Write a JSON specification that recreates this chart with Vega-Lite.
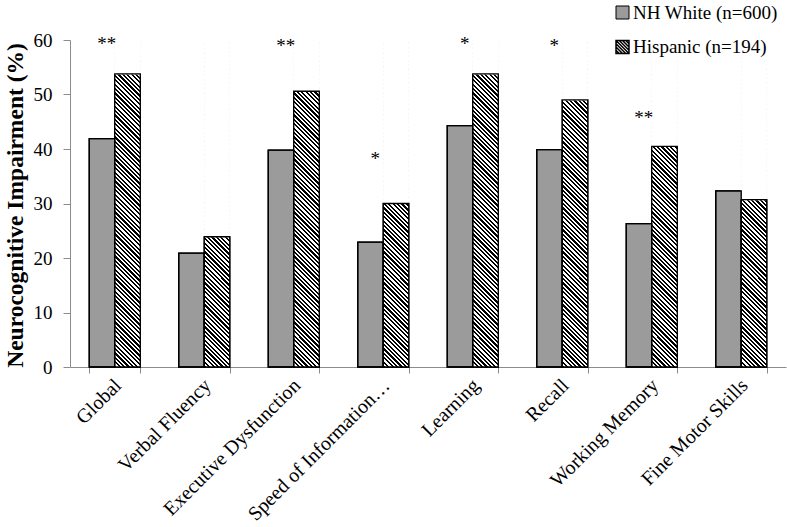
{
  "$schema": "https://vega.github.io/schema/vega-lite/v6.json",
  "width": 716,
  "height": 327,
  "autosize": "none",
  "padding": {"left": 70, "top": 40, "right": 1, "bottom": 160},
  "background": "white",
  "datasets": {
    "bars": [
      {"measure": "Global", "group": "NH White (n=600)", "value": 41.9},
      {"measure": "Global", "group": "Hispanic (n=194)", "value": 53.8},
      {"measure": "Verbal Fluency", "group": "NH White (n=600)", "value": 20.9},
      {"measure": "Verbal Fluency", "group": "Hispanic (n=194)", "value": 23.9},
      {"measure": "Executive Dysfunction", "group": "NH White (n=600)", "value": 39.8},
      {"measure": "Executive Dysfunction", "group": "Hispanic (n=194)", "value": 50.6},
      {"measure": "Speed of Information Processing", "group": "NH White (n=600)", "value": 22.9},
      {"measure": "Speed of Information Processing", "group": "Hispanic (n=194)", "value": 30.0},
      {"measure": "Learning", "group": "NH White (n=600)", "value": 44.3},
      {"measure": "Learning", "group": "Hispanic (n=194)", "value": 53.8},
      {"measure": "Recall", "group": "NH White (n=600)", "value": 39.9},
      {"measure": "Recall", "group": "Hispanic (n=194)", "value": 49.0},
      {"measure": "Working Memory", "group": "NH White (n=600)", "value": 26.3},
      {"measure": "Working Memory", "group": "Hispanic (n=194)", "value": 40.5},
      {"measure": "Fine Motor Skills", "group": "NH White (n=600)", "value": 32.3},
      {"measure": "Fine Motor Skills", "group": "Hispanic (n=194)", "value": 30.7}
    ],
    "stars": [
      {"measure": "Global", "label": "**", "ypos": 59.8},
      {"measure": "Executive Dysfunction", "label": "**", "ypos": 59.4},
      {"measure": "Speed of Information Processing", "label": "*", "ypos": 38.75},
      {"measure": "Learning", "label": "*", "ypos": 59.8},
      {"measure": "Recall", "label": "*", "ypos": 59.4},
      {"measure": "Working Memory", "label": "**", "ypos": 46.2}
    ]
  },
  "config": {
    "view": {"stroke": null},
    "font": "Liberation Serif",
    "axis": {"domainColor": "#8c8c8c", "tickColor": "#8c8c8c", "labelColor": "black", "titleColor": "black", "labelFont": "Liberation Serif", "titleFont": "Liberation Serif", "grid": false, "domainWidth": 1, "tickWidth": 1},
    "axisX": {"labelAngle": -45, "labelAlign": "right", "labelBaseline": "middle", "labelFontSize": 20, "tickSize": 6, "tickBand": "extent", "labelPadding": 9, "labelOffset": 3, "labelLimit": 400},
    "axisY": {"labelFontSize": 19, "tickSize": 7, "labelPadding": 11, "titleFontSize": 23.5, "titleFontWeight": "bold", "titleAngle": -90, "titleX": -48, "titleY": 165, "titleBaseline": "alphabetic", "titleAlign": "center"},
    "legend": {"orient": "none", "title": null, "labelFontSize": 19, "labelFont": "Liberation Serif", "labelColor": "black", "labelOffset": 1, "labelLimit": 300, "padding": 0, "symbolSize": 169}
  },
  "encoding": {
    "x": {
      "field": "measure",
      "type": "nominal",
      "title": null,
      "scale": {"domain": ["Global", "Verbal Fluency", "Executive Dysfunction", "Speed of Information Processing", "Learning", "Recall", "Working Memory", "Fine Motor Skills"], "paddingInner": 0.43, "paddingOuter": 0.215},
      "axis": {"labelExpr": "datum.label == 'Speed of Information Processing' ? 'Speed of Information…' : datum.label"}
    }
  },
  "layer": [
    {
      "data": {"name": "bars"},
      "mark": {"type": "bar", "stroke": "black", "strokeWidth": 1.3},
      "encoding": {
        "xOffset": {"field": "group", "type": "nominal", "scale": {"domain": ["NH White (n=600)", "Hispanic (n=194)"]}},
        "y": {"field": "value", "type": "quantitative", "stack": null, "title": "Neurocognitive Impairment (%)", "scale": {"domain": [0, 60]}, "axis": {"values": [0, 10, 20, 30, 40, 50, 60]}},
        "fill": {
          "field": "group",
          "type": "nominal",
          "scale": {"domain": ["NH White (n=600)", "Hispanic (n=194)"], "range": ["#9b9b9b", "white"]},
          "legend": {"values": ["NH White (n=600)"], "legendX": 543, "legendY": -37, "symbolType": "square", "symbolStrokeColor": "black", "symbolStrokeWidth": 1}
        }
      }
    },
    {
      "data": {"name": "bars"},
      "transform": [{"filter": "datum.group == 'Hispanic (n=194)'"}],
      "mark": {"type": "bar", "fill": {"gradient": "linear", "x1": 0, "y1": 1, "x2": 0.08359, "y2": -0.07148, "stops": [
        {"offset":0,"color":"#000"},
        {"offset":0.00625,"color":"#000"},{"offset":0.00625,"color":"#fff"},{"offset":0.0125,"color":"#fff"},{"offset":0.0125,"color":"#000"},
        {"offset":0.01875,"color":"#000"},{"offset":0.01875,"color":"#fff"},{"offset":0.025,"color":"#fff"},{"offset":0.025,"color":"#000"},
        {"offset":0.03125,"color":"#000"},{"offset":0.03125,"color":"#fff"},{"offset":0.0375,"color":"#fff"},{"offset":0.0375,"color":"#000"},
        {"offset":0.04375,"color":"#000"},{"offset":0.04375,"color":"#fff"},{"offset":0.05,"color":"#fff"},{"offset":0.05,"color":"#000"},
        {"offset":0.05625,"color":"#000"},{"offset":0.05625,"color":"#fff"},{"offset":0.0625,"color":"#fff"},{"offset":0.0625,"color":"#000"},
        {"offset":0.06875,"color":"#000"},{"offset":0.06875,"color":"#fff"},{"offset":0.075,"color":"#fff"},{"offset":0.075,"color":"#000"},
        {"offset":0.08125,"color":"#000"},{"offset":0.08125,"color":"#fff"},{"offset":0.0875,"color":"#fff"},{"offset":0.0875,"color":"#000"},
        {"offset":0.09375,"color":"#000"},{"offset":0.09375,"color":"#fff"},{"offset":0.1,"color":"#fff"},{"offset":0.1,"color":"#000"},
        {"offset":0.10625,"color":"#000"},{"offset":0.10625,"color":"#fff"},{"offset":0.1125,"color":"#fff"},{"offset":0.1125,"color":"#000"},
        {"offset":0.11875,"color":"#000"},{"offset":0.11875,"color":"#fff"},{"offset":0.125,"color":"#fff"},{"offset":0.125,"color":"#000"},
        {"offset":0.13125,"color":"#000"},{"offset":0.13125,"color":"#fff"},{"offset":0.1375,"color":"#fff"},{"offset":0.1375,"color":"#000"},
        {"offset":0.14375,"color":"#000"},{"offset":0.14375,"color":"#fff"},{"offset":0.15,"color":"#fff"},{"offset":0.15,"color":"#000"},
        {"offset":0.15625,"color":"#000"},{"offset":0.15625,"color":"#fff"},{"offset":0.1625,"color":"#fff"},{"offset":0.1625,"color":"#000"},
        {"offset":0.16875,"color":"#000"},{"offset":0.16875,"color":"#fff"},{"offset":0.175,"color":"#fff"},{"offset":0.175,"color":"#000"},
        {"offset":0.18125,"color":"#000"},{"offset":0.18125,"color":"#fff"},{"offset":0.1875,"color":"#fff"},{"offset":0.1875,"color":"#000"},
        {"offset":0.19375,"color":"#000"},{"offset":0.19375,"color":"#fff"},{"offset":0.2,"color":"#fff"},{"offset":0.2,"color":"#000"},
        {"offset":0.20625,"color":"#000"},{"offset":0.20625,"color":"#fff"},{"offset":0.2125,"color":"#fff"},{"offset":0.2125,"color":"#000"},
        {"offset":0.21875,"color":"#000"},{"offset":0.21875,"color":"#fff"},{"offset":0.225,"color":"#fff"},{"offset":0.225,"color":"#000"},
        {"offset":0.23125,"color":"#000"},{"offset":0.23125,"color":"#fff"},{"offset":0.2375,"color":"#fff"},{"offset":0.2375,"color":"#000"},
        {"offset":0.24375,"color":"#000"},{"offset":0.24375,"color":"#fff"},{"offset":0.25,"color":"#fff"},{"offset":0.25,"color":"#000"},
        {"offset":0.25625,"color":"#000"},{"offset":0.25625,"color":"#fff"},{"offset":0.2625,"color":"#fff"},{"offset":0.2625,"color":"#000"},
        {"offset":0.26875,"color":"#000"},{"offset":0.26875,"color":"#fff"},{"offset":0.275,"color":"#fff"},{"offset":0.275,"color":"#000"},
        {"offset":0.28125,"color":"#000"},{"offset":0.28125,"color":"#fff"},{"offset":0.2875,"color":"#fff"},{"offset":0.2875,"color":"#000"},
        {"offset":0.29375,"color":"#000"},{"offset":0.29375,"color":"#fff"},{"offset":0.3,"color":"#fff"},{"offset":0.3,"color":"#000"},
        {"offset":0.30625,"color":"#000"},{"offset":0.30625,"color":"#fff"},{"offset":0.3125,"color":"#fff"},{"offset":0.3125,"color":"#000"},
        {"offset":0.31875,"color":"#000"},{"offset":0.31875,"color":"#fff"},{"offset":0.325,"color":"#fff"},{"offset":0.325,"color":"#000"},
        {"offset":0.33125,"color":"#000"},{"offset":0.33125,"color":"#fff"},{"offset":0.3375,"color":"#fff"},{"offset":0.3375,"color":"#000"},
        {"offset":0.34375,"color":"#000"},{"offset":0.34375,"color":"#fff"},{"offset":0.35,"color":"#fff"},{"offset":0.35,"color":"#000"},
        {"offset":0.35625,"color":"#000"},{"offset":0.35625,"color":"#fff"},{"offset":0.3625,"color":"#fff"},{"offset":0.3625,"color":"#000"},
        {"offset":0.36875,"color":"#000"},{"offset":0.36875,"color":"#fff"},{"offset":0.375,"color":"#fff"},{"offset":0.375,"color":"#000"},
        {"offset":0.38125,"color":"#000"},{"offset":0.38125,"color":"#fff"},{"offset":0.3875,"color":"#fff"},{"offset":0.3875,"color":"#000"},
        {"offset":0.39375,"color":"#000"},{"offset":0.39375,"color":"#fff"},{"offset":0.4,"color":"#fff"},{"offset":0.4,"color":"#000"},
        {"offset":0.40625,"color":"#000"},{"offset":0.40625,"color":"#fff"},{"offset":0.4125,"color":"#fff"},{"offset":0.4125,"color":"#000"},
        {"offset":0.41875,"color":"#000"},{"offset":0.41875,"color":"#fff"},{"offset":0.425,"color":"#fff"},{"offset":0.425,"color":"#000"},
        {"offset":0.43125,"color":"#000"},{"offset":0.43125,"color":"#fff"},{"offset":0.4375,"color":"#fff"},{"offset":0.4375,"color":"#000"},
        {"offset":0.44375,"color":"#000"},{"offset":0.44375,"color":"#fff"},{"offset":0.45,"color":"#fff"},{"offset":0.45,"color":"#000"},
        {"offset":0.45625,"color":"#000"},{"offset":0.45625,"color":"#fff"},{"offset":0.4625,"color":"#fff"},{"offset":0.4625,"color":"#000"},
        {"offset":0.46875,"color":"#000"},{"offset":0.46875,"color":"#fff"},{"offset":0.475,"color":"#fff"},{"offset":0.475,"color":"#000"},
        {"offset":0.48125,"color":"#000"},{"offset":0.48125,"color":"#fff"},{"offset":0.4875,"color":"#fff"},{"offset":0.4875,"color":"#000"},
        {"offset":0.49375,"color":"#000"},{"offset":0.49375,"color":"#fff"},{"offset":0.5,"color":"#fff"},{"offset":0.5,"color":"#000"},
        {"offset":0.50625,"color":"#000"},{"offset":0.50625,"color":"#fff"},{"offset":0.5125,"color":"#fff"},{"offset":0.5125,"color":"#000"},
        {"offset":0.51875,"color":"#000"},{"offset":0.51875,"color":"#fff"},{"offset":0.525,"color":"#fff"},{"offset":0.525,"color":"#000"},
        {"offset":0.53125,"color":"#000"},{"offset":0.53125,"color":"#fff"},{"offset":0.5375,"color":"#fff"},{"offset":0.5375,"color":"#000"},
        {"offset":0.54375,"color":"#000"},{"offset":0.54375,"color":"#fff"},{"offset":0.55,"color":"#fff"},{"offset":0.55,"color":"#000"},
        {"offset":0.55625,"color":"#000"},{"offset":0.55625,"color":"#fff"},{"offset":0.5625,"color":"#fff"},{"offset":0.5625,"color":"#000"},
        {"offset":0.56875,"color":"#000"},{"offset":0.56875,"color":"#fff"},{"offset":0.575,"color":"#fff"},{"offset":0.575,"color":"#000"},
        {"offset":0.58125,"color":"#000"},{"offset":0.58125,"color":"#fff"},{"offset":0.5875,"color":"#fff"},{"offset":0.5875,"color":"#000"},
        {"offset":0.59375,"color":"#000"},{"offset":0.59375,"color":"#fff"},{"offset":0.6,"color":"#fff"},{"offset":0.6,"color":"#000"},
        {"offset":0.60625,"color":"#000"},{"offset":0.60625,"color":"#fff"},{"offset":0.6125,"color":"#fff"},{"offset":0.6125,"color":"#000"},
        {"offset":0.61875,"color":"#000"},{"offset":0.61875,"color":"#fff"},{"offset":0.625,"color":"#fff"},{"offset":0.625,"color":"#000"},
        {"offset":0.63125,"color":"#000"},{"offset":0.63125,"color":"#fff"},{"offset":0.6375,"color":"#fff"},{"offset":0.6375,"color":"#000"},
        {"offset":0.64375,"color":"#000"},{"offset":0.64375,"color":"#fff"},{"offset":0.65,"color":"#fff"},{"offset":0.65,"color":"#000"},
        {"offset":0.65625,"color":"#000"},{"offset":0.65625,"color":"#fff"},{"offset":0.6625,"color":"#fff"},{"offset":0.6625,"color":"#000"},
        {"offset":0.66875,"color":"#000"},{"offset":0.66875,"color":"#fff"},{"offset":0.675,"color":"#fff"},{"offset":0.675,"color":"#000"},
        {"offset":0.68125,"color":"#000"},{"offset":0.68125,"color":"#fff"},{"offset":0.6875,"color":"#fff"},{"offset":0.6875,"color":"#000"},
        {"offset":0.69375,"color":"#000"},{"offset":0.69375,"color":"#fff"},{"offset":0.7,"color":"#fff"},{"offset":0.7,"color":"#000"},
        {"offset":0.70625,"color":"#000"},{"offset":0.70625,"color":"#fff"},{"offset":0.7125,"color":"#fff"},{"offset":0.7125,"color":"#000"},
        {"offset":0.71875,"color":"#000"},{"offset":0.71875,"color":"#fff"},{"offset":0.725,"color":"#fff"},{"offset":0.725,"color":"#000"},
        {"offset":0.73125,"color":"#000"},{"offset":0.73125,"color":"#fff"},{"offset":0.7375,"color":"#fff"},{"offset":0.7375,"color":"#000"},
        {"offset":0.74375,"color":"#000"},{"offset":0.74375,"color":"#fff"},{"offset":0.75,"color":"#fff"},{"offset":0.75,"color":"#000"},
        {"offset":0.75625,"color":"#000"},{"offset":0.75625,"color":"#fff"},{"offset":0.7625,"color":"#fff"},{"offset":0.7625,"color":"#000"},
        {"offset":0.76875,"color":"#000"},{"offset":0.76875,"color":"#fff"},{"offset":0.775,"color":"#fff"},{"offset":0.775,"color":"#000"},
        {"offset":0.78125,"color":"#000"},{"offset":0.78125,"color":"#fff"},{"offset":0.7875,"color":"#fff"},{"offset":0.7875,"color":"#000"},
        {"offset":0.79375,"color":"#000"},{"offset":0.79375,"color":"#fff"},{"offset":0.8,"color":"#fff"},{"offset":0.8,"color":"#000"},
        {"offset":0.80625,"color":"#000"},{"offset":0.80625,"color":"#fff"},{"offset":0.8125,"color":"#fff"},{"offset":0.8125,"color":"#000"},
        {"offset":0.81875,"color":"#000"},{"offset":0.81875,"color":"#fff"},{"offset":0.825,"color":"#fff"},{"offset":0.825,"color":"#000"},
        {"offset":0.83125,"color":"#000"},{"offset":0.83125,"color":"#fff"},{"offset":0.8375,"color":"#fff"},{"offset":0.8375,"color":"#000"},
        {"offset":0.84375,"color":"#000"},{"offset":0.84375,"color":"#fff"},{"offset":0.85,"color":"#fff"},{"offset":0.85,"color":"#000"},
        {"offset":0.85625,"color":"#000"},{"offset":0.85625,"color":"#fff"},{"offset":0.8625,"color":"#fff"},{"offset":0.8625,"color":"#000"},
        {"offset":0.86875,"color":"#000"},{"offset":0.86875,"color":"#fff"},{"offset":0.875,"color":"#fff"},{"offset":0.875,"color":"#000"},
        {"offset":0.88125,"color":"#000"},{"offset":0.88125,"color":"#fff"},{"offset":0.8875,"color":"#fff"},{"offset":0.8875,"color":"#000"},
        {"offset":0.89375,"color":"#000"},{"offset":0.89375,"color":"#fff"},{"offset":0.9,"color":"#fff"},{"offset":0.9,"color":"#000"},
        {"offset":0.90625,"color":"#000"},{"offset":0.90625,"color":"#fff"},{"offset":0.9125,"color":"#fff"},{"offset":0.9125,"color":"#000"},
        {"offset":0.91875,"color":"#000"},{"offset":0.91875,"color":"#fff"},{"offset":0.925,"color":"#fff"},{"offset":0.925,"color":"#000"},
        {"offset":0.93125,"color":"#000"},{"offset":0.93125,"color":"#fff"},{"offset":0.9375,"color":"#fff"},{"offset":0.9375,"color":"#000"},
        {"offset":0.94375,"color":"#000"},{"offset":0.94375,"color":"#fff"},{"offset":0.95,"color":"#fff"},{"offset":0.95,"color":"#000"},
        {"offset":0.95625,"color":"#000"},{"offset":0.95625,"color":"#fff"},{"offset":0.9625,"color":"#fff"},{"offset":0.9625,"color":"#000"},
        {"offset":0.96875,"color":"#000"},{"offset":0.96875,"color":"#fff"},{"offset":0.975,"color":"#fff"},{"offset":0.975,"color":"#000"},
        {"offset":0.98125,"color":"#000"},{"offset":0.98125,"color":"#fff"},{"offset":0.9875,"color":"#fff"},{"offset":0.9875,"color":"#000"},
        {"offset":0.99375,"color":"#000"},{"offset":0.99375,"color":"#fff"},{"offset":1,"color":"#fff"}
      ]}},
      "encoding": {
        "xOffset": {"field": "group", "type": "nominal", "scale": {"domain": ["NH White (n=600)", "Hispanic (n=194)"]}},
        "y": {"datum": 60, "type": "quantitative", "title": "Neurocognitive Impairment (%)"}
      }
    },
    {
      "data": {"name": "bars"},
      "transform": [{"filter": "datum.group == 'Hispanic (n=194)'"}],
      "mark": {"type": "bar", "fill": "white", "stroke": "white", "strokeWidth": 1.2},
      "encoding": {
        "xOffset": {"field": "group", "type": "nominal", "scale": {"domain": ["NH White (n=600)", "Hispanic (n=194)"]}},
        "y": {"field": "value", "type": "quantitative", "stack": null, "title": "Neurocognitive Impairment (%)"},
        "y2": {"datum": 60}
      }
    },
    {
      "data": {"name": "bars"},
      "mark": {"type": "bar", "fill": "transparent", "strokeWidth": 1.3},
      "encoding": {
        "xOffset": {"field": "group", "type": "nominal", "scale": {"domain": ["NH White (n=600)", "Hispanic (n=194)"]}},
        "y": {"field": "value", "type": "quantitative", "stack": null, "title": "Neurocognitive Impairment (%)"},
        "stroke": {
          "field": "group",
          "type": "nominal",
          "scale": {"domain": ["Hispanic (n=194)", "NH White (n=600)"], "range": ["black", "black"]},
          "legend": {"values": ["Hispanic (n=194)"], "legendX": 543, "legendY": -2.5, "symbolType": "M-1,-1H1V1H-1Z M-1,-1L1,1 M-0.5,-1L1,0.5 M0,-1L1,0 M0.5,-1L1,-0.5 M-1,-0.5L0.5,1 M-1,0L0,1 M-1,0.5L-0.5,1", "symbolStrokeWidth": 1.5, "symbolFillColor": "white"}
        }
      }
    },
    {
      "data": {"name": "stars"},
      "mark": {"type": "text", "font": "Liberation Serif", "fontSize": 19, "dx": -8, "dy": 9, "baseline": "alphabetic", "align": "center", "color": "black"},
      "encoding": {
        "y": {"field": "ypos", "type": "quantitative", "title": "Neurocognitive Impairment (%)"},
        "text": {"field": "label"}
      }
    }
  ]
}
